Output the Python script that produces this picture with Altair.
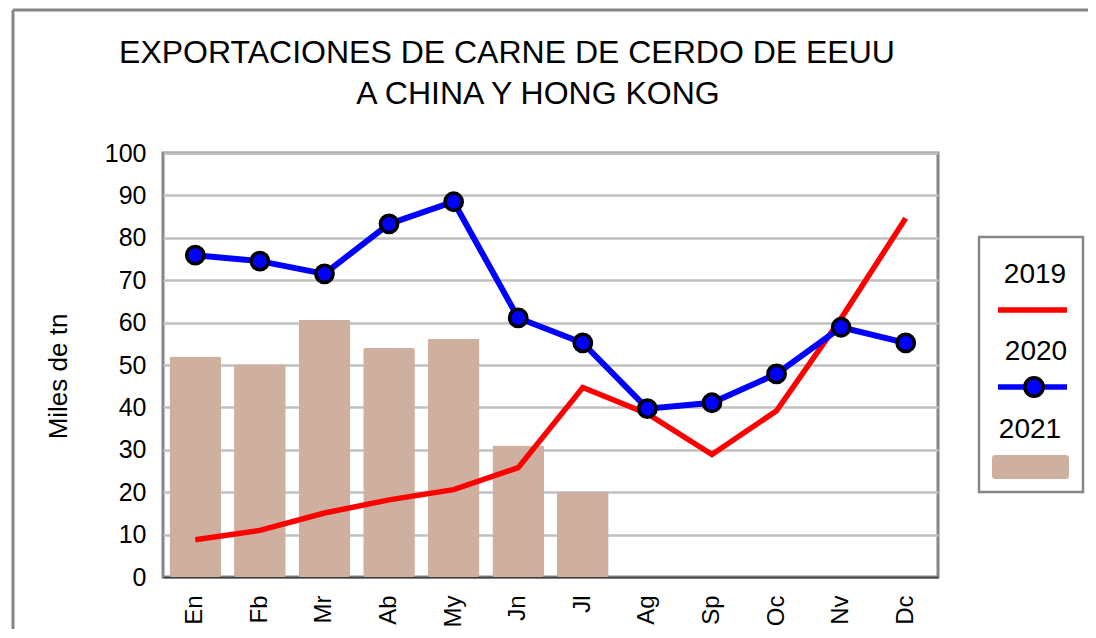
import altair as alt
import pandas as pd

MONTHS = ["En", "Fb", "Mr", "Ab", "My", "Jn", "Jl", "Ag", "Sp", "Oc", "Nv", "Dc"]
V2019 = [8.8, 11.0, 15.1, 18.2, 20.6, 25.8, 44.7, 38.5, 28.9, 39.2, 61.0, 84.6]
V2020 = [75.9, 74.5, 71.5, 83.3, 88.5, 61.1, 55.2, 39.7, 41.1, 47.9, 58.9, 55.2]
V2021 = [52.0, 50.2, 60.7, 54.0, 56.2, 31.0, 20.1, None, None, None, None, None]
SERIES = ["2019", "2020", "2021"]
TITLE_LINES = ["EXPORTACIONES DE CARNE DE CERDO DE EEUU", "A CHINA Y HONG KONG"]
Y_TITLE = "Miles de tn"
Y_TICKS = list(range(0, 101, 10))

FONT = "Liberation Sans, Arial, sans-serif"
RED = "#ff0000"
BLUE = "#0000ff"
TAN = "#cfb0a0"
GRAY = "#868686"

df = pd.DataFrame({"month": MONTHS, "y2019": V2019, "y2020": V2020, "y2021": V2021})

x_enc = alt.X(
    "month:N",
    sort=MONTHS,
    scale=alt.Scale(paddingInner=0.2, paddingOuter=0.1),
    axis=alt.Axis(
        title=None,
        labelAngle=270,
        labelFontSize=24,
        labelPadding=18,
        labelColor="#000000",
        labelFont=FONT,
        ticks=False,
        grid=False,
        domain=True,
        domainColor="#404040",
        domainWidth=2,
    ),
)

y_axis = alt.Axis(
    values=Y_TICKS,
    labelFontSize=25,
    labelPadding=17,
    labelColor="#000000",
    labelFont=FONT,
    ticks=False,
    domain=False,
    grid=True,
    gridColor="#c0c0c0",
    gridWidth=2.5,
    title=Y_TITLE,
    titleFont=FONT,
    titleFontSize=26,
    titleFontWeight="normal",
    titleColor="#000000",
    titleAngle=270,
    titleAlign="center",
    titleBaseline="alphabetic",
    titleX=-97,
    titleY=223,
)
y_scale = alt.Scale(domain=[0, 100], nice=False)

base = alt.Chart(df)

bars = base.mark_bar(color=TAN, cornerRadius=2).encode(
    x=x_enc, y=alt.Y("y2021:Q", scale=y_scale, axis=y_axis)
)
line19 = base.mark_line(color=RED, strokeWidth=5.5, strokeCap="butt").encode(
    x=alt.X("month:N", sort=MONTHS), y=alt.Y("y2019:Q", scale=y_scale)
)
line20 = base.mark_line(color=BLUE, strokeWidth=6).encode(
    x=alt.X("month:N", sort=MONTHS), y=alt.Y("y2020:Q", scale=y_scale)
)
pts20 = base.mark_point(
    shape="circle", filled=True, fill=BLUE, stroke="#000000", strokeWidth=3.5, size=300, opacity=1
).encode(x=alt.X("month:N", sort=MONTHS), y=alt.Y("y2020:Q", scale=y_scale))


def one(label):
    return alt.Chart(pd.DataFrame({"t": [label]}))


# title lines
title1 = one(TITLE_LINES[0]).mark_text(
    font=FONT, fontSize=32, align="center", baseline="alphabetic", color="#000000"
).encode(x=alt.value(344), y=alt.value(-90), text="t:N")
title2 = one(TITLE_LINES[1]).mark_text(
    font=FONT, fontSize=32, align="center", baseline="alphabetic", color="#000000"
).encode(x=alt.value(375), y=alt.value(-49), text="t:N")

# outer chart-area frame (top and left edges)
frame_top = one("f").mark_rule(color=GRAY, strokeWidth=3).encode(
    x=alt.value(-150), x2=alt.value(925), y=alt.value(-143)
)
frame_left = one("f").mark_rule(color=GRAY, strokeWidth=3).encode(
    x=alt.value(-150), y=alt.value(-143), y2=alt.value(476)
)

# legend
leg_box = one("box").mark_rect(fill="#ffffff", stroke=GRAY, strokeWidth=2.5).encode(
    x=alt.value(816), x2=alt.value(920), y=alt.value(84), y2=alt.value(339)
)
leg_txt_style = dict(font=FONT, fontSize=28, align="center", baseline="alphabetic", color="#000000")
leg_t19 = one(SERIES[0]).mark_text(**leg_txt_style).encode(x=alt.value(872), y=alt.value(130), text="t:N")
leg_t20 = one(SERIES[1]).mark_text(**leg_txt_style).encode(x=alt.value(873), y=alt.value(207), text="t:N")
leg_t21 = one(SERIES[2]).mark_text(**leg_txt_style).encode(x=alt.value(867), y=alt.value(285), text="t:N")
leg_l19 = one(SERIES[0]).mark_rule(color=RED, strokeWidth=5.5).encode(
    x=alt.value(835), x2=alt.value(904), y=alt.value(157)
)
leg_l20 = one(SERIES[1]).mark_rule(color=BLUE, strokeWidth=5.5).encode(
    x=alt.value(835), x2=alt.value(904), y=alt.value(234)
)
leg_p20 = one(SERIES[1]).mark_point(
    shape="circle", filled=True, fill=BLUE, stroke="#000000", strokeWidth=3.5, size=340, opacity=1
).encode(x=alt.value(871), y=alt.value(234))
leg_r21 = one(SERIES[2]).mark_rect(fill=TAN, cornerRadius=3).encode(
    x=alt.value(829), x2=alt.value(906), y=alt.value(302), y2=alt.value(326)
)

chart = (
    alt.layer(
        bars, line19, line20, pts20,
        title1, title2, frame_top, frame_left,
        leg_box, leg_t19, leg_t20, leg_t21, leg_l19, leg_l20, leg_p20, leg_r21,
    )
    .properties(
        width=775,
        height=424,
        autosize=alt.AutoSizeParams(type="none"),
        padding={"left": 155, "top": 145, "right": 150, "bottom": 53},
        background="#ffffff",
    )
    .configure_view(stroke=GRAY, strokeWidth=3)
)

chart.save("out.html", embed_options={"renderer": "svg", "actions": False})
